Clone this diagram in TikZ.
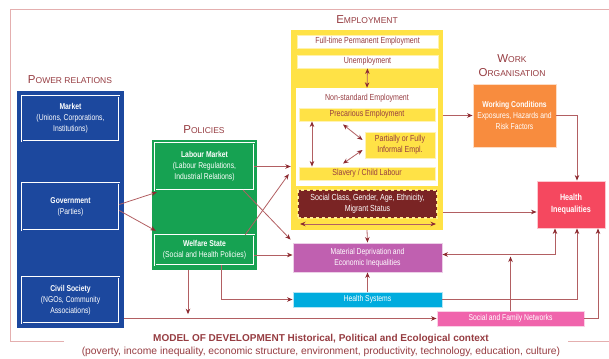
\documentclass[tikz,border=0pt]{standalone}
\usepackage{fontspec}
\setmainfont{Liberation Sans}
\newfontfamily\condfont{Liberation Sans}[FakeStretch=0.8]
\usepackage{tikz}
\usetikzlibrary{arrows.meta, calc}
\definecolor{titlered}{RGB}{150,60,65}
\definecolor{linered}{RGB}{178,95,98}
\definecolor{tipred}{RGB}{140,42,48}
\definecolor{framepink}{RGB}{228,175,175}
\definecolor{powerblue}{RGB}{28,72,158}
\definecolor{policygreen}{RGB}{22,162,82}
\definecolor{employyellow}{RGB}{255,226,70}
\definecolor{classred}{RGB}{122,36,36}
\definecolor{deprivpurple}{RGB}{192,96,176}
\definecolor{systemcyan}{RGB}{0,172,222}
\definecolor{workorange}{RGB}{248,140,62}
\definecolor{healthred}{RGB}{245,72,95}
\definecolor{networkpink}{RGB}{240,100,172}
\newcommand{\capsword}[2]{{\fontsize{11.5}{12}\selectfont #1}#2}
\tikzstyle{bigbox} = [rectangle, inner sep=0pt]
\tikzstyle{inbox} = [rectangle, draw=white, double distance=0.7pt, line width=0.45pt,
    align=center, text=white, inner sep=1pt, font=\condfont\fontsize{8.5}{11}\selectfont]
\tikzstyle{empbox} = [rectangle, line width=0.9pt, align=center, text=titlered,
    inner sep=1pt, font=\condfont\fontsize{8.8}{11}\selectfont]
\tikzstyle{line} = [draw=linered, line width=0.8pt, -{Stealth[length=5.5pt,width=4.5pt,color=tipred]}]
\tikzstyle{both} = [{Stealth[length=5.5pt,width=4.5pt,color=tipred]}-{Stealth[length=5.5pt,width=4.5pt,color=tipred]}]

\begin{document}
\begin{tikzpicture}[x=1pt, y=-1pt,
    heading/.style={text=titlered, font=\fontsize{8.5}{14}\selectfont, align=center},
    colbox/.style={rectangle, draw=white!70!#1, line width=0.9pt, fill=#1, align=center,
        text=white, inner sep=1pt, font=\condfont\fontsize{8.5}{11}\selectfont}
    ]
    \useasboundingbox (0,0) rectangle (609,358);

    \draw[framepink, line width=1pt] (64,341) -- (10,341) -- (10,10) -- (609,10);
    \draw[framepink, line width=1pt] (568,341) -- (609,341);

    \node[heading] (powertitle) at (70,80) {\capsword{P}{OWER RELATIONS}};
    \node[heading] (policytitle) at (204,130) {\capsword{P}{OLICIES}};
    \node[heading] (employtitle) at (367,20) {\capsword{E}{MPLOYMENT}};
    \node[heading] (worktitle) at (512,66) {\capsword{W}{ORK}\\\capsword{O}{RGANISATION}};

    \node[bigbox, fill=powerblue, minimum width=107pt, minimum height=237pt] (powerbox) at (70.5,209.5) {};
    \node[inbox, double=powerblue, minimum width=97pt, minimum height=45pt] (market) at (70.5,118.5)
        {\textbf{Market}\\(Unions, Corporations,\\Institutions)};
    \node[inbox, double=powerblue, minimum width=97pt, minimum height=47pt] (government) at (70.5,206.5)
        {\textbf{Government}\\(Parties)};
    \node[inbox, double=powerblue, minimum width=97pt, minimum height=46pt] (civil) at (70.5,300)
        {\textbf{Civil Society}\\(NGOs, Community\\Associations)};

    \node[bigbox, fill=policygreen, minimum width=105pt, minimum height=130pt] (policybox) at (204.5,205) {};
    \node[inbox, double=policygreen, minimum width=99pt, minimum height=47pt] (labour) at (204.5,166.5)
        {\textbf{Labour Market}\\(Labour Regulations,\\Industrial Relations)};
    \node[inbox, double=policygreen, minimum width=99pt, minimum height=30pt] (welfare) at (204.5,250)
        {\textbf{Welfare State}\\(Social and Health Policies)};

    \node[bigbox, fill=employyellow, minimum width=152pt, minimum height=200pt] (employbox) at (367,130) {};
    \node[empbox, draw=employyellow!45!white, fill=white, minimum width=141pt, minimum height=13pt] (fulltime)
        at (367.5,41.5) {Full-time Permanent Employment};
    \node[empbox, draw=employyellow!45!white, fill=white, minimum width=141pt, minimum height=13pt] (unemploy)
        at (367.5,61.5) {Unemployment};
    \node[bigbox, fill=white, minimum width=142pt, minimum height=98pt] (nonstd) at (367,137) {};
    \node[empbox] (nonstdlabel) at (367,98) {Non-standard Employment};
    \node[empbox, draw=employyellow!40!white, fill=employyellow, minimum width=136pt, minimum height=13pt]
        (precarious) at (367,114.5) {Precarious Employment};
    \node[empbox, draw=employyellow!40!white, fill=employyellow, minimum width=70pt, minimum height=26pt]
        (informal) at (400,145) {Partially or Fully\\Informal Empl.};
    \node[empbox, draw=employyellow!40!white, fill=employyellow, minimum width=136pt, minimum height=13pt]
        (slavery) at (367,173.5) {Slavery / Child Labour};
    \node[empbox, draw=employyellow!60!white, dashed, line width=1.2pt, fill=classred, text=white,
        minimum width=139pt, minimum height=28pt] (classbox) at (367.5,204)
        {Social Class, Gender, Age, Ethnicity,\\Migrant Status};
    \coordinate (classleft) at (300,224);
    \coordinate (classright) at (436,224);

    \node[colbox=workorange, minimum width=83pt, minimum height=63pt] (workcond) at (514.5,115.5)
        {\textbf{Working Conditions}\\Exposures, Hazards and\\Risk Factors};
    \node[colbox=healthred, minimum width=68pt, minimum height=47pt, font=\condfont\fontsize{9}{12}\selectfont]
        (health) at (571,204.5) {\textbf{Health}\\\textbf{Inequalities}};
    \node[colbox=deprivpurple, minimum width=149pt, minimum height=29pt] (material) at (367.5,257.5)
        {Material Deprivation and\\Economic Inequalities};
    \node[colbox=systemcyan, minimum width=149pt, minimum height=15pt] (healthsys) at (367.5,299.5)
        {Health Systems};
    \node[colbox=networkpink, minimum width=147pt, minimum height=15pt] (networks) at (510.5,318.5)
        {Social and Family Networks};

    \node[text=titlered, font=\bfseries\fontsize{10}{11}\selectfont] (devtitle) at (321,339)
        {MODEL OF DEVELOPMENT Historical, Political and Ecological context};
    \node[text=titlered, font=\fontsize{10.3}{11}\selectfont] (devtext) at (321,352)
        {(poverty, income inequality, economic structure, environment, productivity, technology, education, culture)};

    \draw[line] ([yshift=2pt]government.east) -- ([xshift=2pt,yshift=-2pt]labour.south west);
    \draw[line] ([yshift=-4pt]government.east) -- ([xshift=1pt,yshift=4pt]welfare.north west);
    \draw[line] (labour.east) -- (labour.east -| employbox.west);
    \draw[line] ($(labour.south east)+(-11,0)$) -- ($(material.north west)+(-2,-3)$);
    \draw[line] ($(welfare.north east)+(-9,0)$) -- ($(employbox.west)+(-2,44)$);
    \draw[line] ([yshift=-5pt]welfare.east) -- ([yshift=-5pt]welfare.east -| material.west);
    \draw[line] ($(welfare.south)+(16.5,0)$) |- (healthsys.west);
    \coordinate (welfaredown) at ($(policybox.south)+(-16.5,44)$);
    \draw[line] ($(policybox.south)+(-16.5,0)$) -- (welfaredown);
    \draw[line] (powerbox.east |- networks.west) -- (networks.west);
    \draw[line] (employbox.east |- workcond.west) -- (workcond.west);
    \draw[line] (workcond.east) -| ([xshift=6pt]health.north);
    \draw[line] ([yshift=-7.5pt]health.west -| employbox.east) -- ([yshift=-7.5pt]health.west);
    \draw[line] (employbox.south) -- (material.north);
    \draw[line] (healthsys.north) -- (material.south);
    \draw[line, both] ([yshift=3pt]material.east) -| ([xshift=-16pt]health.south);
    \coordinate (networkup) at ($(networks.north)+(0,-54)$);
    \draw[line] (networks.north) -- (networkup);
    \draw[line] (healthsys.east) -| ([xshift=6pt]health.south);
    \draw[line] (networks.east) -| ([xshift=27pt]health.south);

    \draw[line, both] (unemploy.south) -- (nonstd.north);
    \draw[line, both] ([xshift=-55pt]precarious.south) -- ([xshift=-55pt]slavery.north);
    \draw[line, both] ($(precarious.south)+(-24,3)$) -- ($(informal.west)+(-2,-5)$);
    \draw[line, both] ($(informal.west)+(-2,5)$) -- ($(slavery.north)+(-24,-3)$);
    \draw[line, both] (classleft) -- (classright);
\end{tikzpicture}
\end{document}
